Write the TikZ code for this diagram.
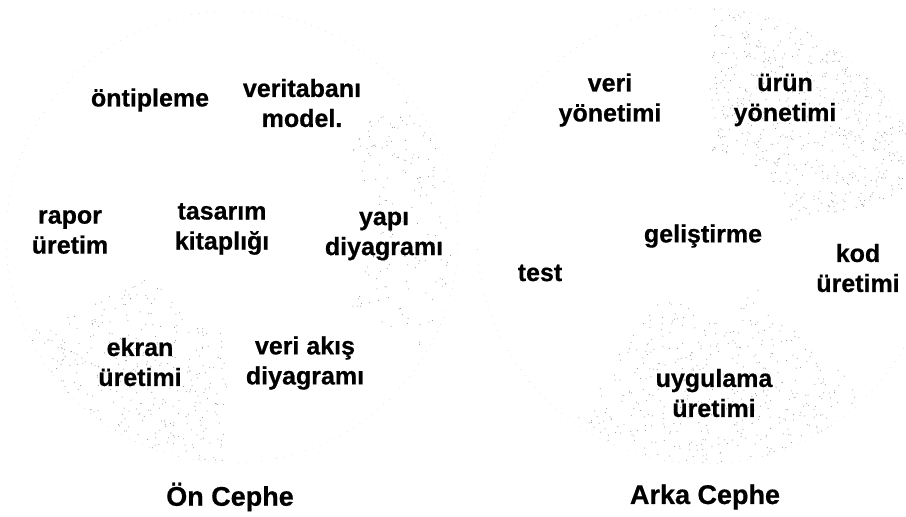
\documentclass[tikz,border=0pt]{standalone}
\usepackage{fontspec}
\setmainfont{Liberation Sans}[BoldFeatures={FakeBold=0.6}]

% Random stipple inside an annular sector.
% #1,#2 centre; #3,#4 start/end angle; #5,#6 inner/outer radius; #7 dot count
\newcommand\stippleband[7]{%
  \foreach \k in {1,...,#7}{%
    \pgfmathsetmacro\ang{#3+rnd*(#4-#3)}%
    \pgfmathsetmacro\rad{100*sqrt((#5/100)^2+rnd*((#6/100)^2-(#5/100)^2))}%
    \fill[dotc] ({#1+\rad*cos(\ang)},{#2-\rad*sin(\ang)}) circle (0.5pt);
  }}

\begin{document}
\begin{tikzpicture}[x=1pt,y=-1pt,
  lbl/.style={font=\bfseries\fontsize{25}{30}\selectfont, align=center, inner sep=0pt},
  ttl/.style={font=\bfseries\fontsize{27}{32}\selectfont, inner sep=0pt},
  rim/.style={draw=black!22, line width=0.4pt, dash pattern=on 0.6pt off 7pt},
  dotc/.style={black!45}]
\useasboundingbox (0,0) rectangle (906,517);
\fill[white] (0,0) rectangle (906,517);
\pgfmathsetseed{4711}

% front-end wheel
\coordinate (c1) at (232,237);
\draw[rim] (c1) circle (226pt);
\stippleband{232}{237}{-30}{40}{135}{222}{170}
\stippleband{232}{237}{205}{268}{88}{226}{330}

% back-end wheel
\coordinate (c2) at (705,236);
\draw[rim] (c2) circle (228pt);
\stippleband{705}{236}{10}{88}{86}{228}{560}
\stippleband{705}{236}{234}{315}{70}{228}{420}

% front-end labels
\node[lbl] (ont) at (150,100) {öntipleme};
\node[lbl] (vtm) at (302,103) {veritabanı\\model.};
\node[lbl] (rap) at (70,232) {rapor\\üretim};
\node[lbl] (tas) at (222,229) {tasarım\\kitaplığı};
\node[lbl] (yap) at (384,236) {yapı\\diyagramı};
\node[lbl] (ekr) at (140,362) {ekran\\üretimi};
\node[lbl] (vad) at (305,363) {veri akış\\diyagramı};
\node[ttl] (on) at (230,497) {Ön Cephe};

% back-end labels
\node[lbl] (vy) at (610,100) {veri\\yönetimi};
\node[lbl] (uy) at (785,100) {ürün\\yönetimi};
\node[lbl] (gel) at (703,236) {geliştirme};
\node[lbl] (tst) at (540,273) {test};
\node[lbl] (kod) at (858,268) {kod\\üretimi};
\node[lbl] (uyg) at (714,393) {uygulama\\üretimi};
\node[ttl] (ark) at (705,497) {Arka Cephe};
\end{tikzpicture}
\end{document}
